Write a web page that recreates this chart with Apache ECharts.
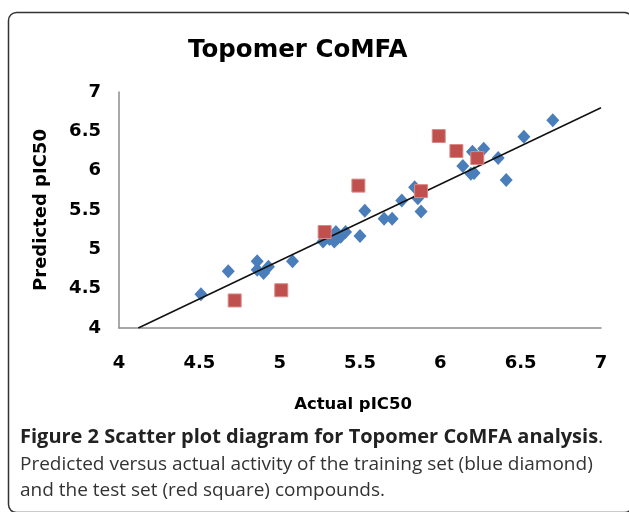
<!DOCTYPE html>
<html>
<head>
<meta charset="utf-8">
<title>Topomer CoMFA</title>
<script src="https://cdn.jsdelivr.net/npm/echarts@6/dist/echarts.min.js"></script>
<style>
  html, body { margin: 0; padding: 0; background: #fff; }
  #chart { width: 629px; height: 512px; }
</style>
</head>
<body>
<div id="chart"></div>
<script>
'use strict';

// training set (blue diamond): [actual, predicted]
var trainingSet = [
  [4.51, 4.43], [4.68, 4.72], [4.86, 4.85], [4.86, 4.74], [4.90, 4.70],
  [4.93, 4.78], [5.08, 4.85], [5.27, 5.10], [5.31, 5.13], [5.34, 5.10],
  [5.35, 5.22], [5.36, 5.14], [5.38, 5.16], [5.41, 5.22], [5.50, 5.17],
  [5.53, 5.49], [5.65, 5.39], [5.70, 5.39], [5.76, 5.62], [5.84, 5.79],
  [5.86, 5.65], [5.88, 5.48], [6.14, 6.06], [6.20, 6.24], [6.21, 5.97],
  [6.19, 5.96], [6.27, 6.28], [6.36, 6.16], [6.41, 5.88], [6.52, 6.43],
  [6.70, 6.64]
];

// test set (red square)
var testSet = [
  [4.72, 4.35], [5.01, 4.48], [5.28, 5.22], [5.49, 5.81],
  [5.88, 5.74], [5.99, 6.44], [6.10, 6.25], [6.23, 6.16]
];

// trend line end points
var trendLine = [[4.12, 4.0], [7.0, 6.80]];

var xTicks = [4, 4.5, 5, 5.5, 6, 6.5, 7];
var yTicks = [4, 4.5, 5, 5.5, 6, 6.5, 7];

var captionBold = 'Figure 2 Scatter plot diagram for Topomer CoMFA analysis';
var captionLines = [
  'Predicted versus actual activity of the training set (blue diamond)',
  'and the test set (red square) compounds.'
];

var chart = echarts.init(document.getElementById('chart'));

var heavy = 'DejaVu Sans, Liberation Sans, sans-serif';

var tickLabel = {
  fontFamily: heavy,
  fontWeight: 'bold',
  fontSize: 18,
  color: '#000'
};

chart.setOption({
  animation: false,
  title: {
    text: 'Topomer CoMFA',
    left: 183,
    top: 33,
    textStyle: {
      fontFamily: heavy,
      fontWeight: 'bold',
      fontSize: 24.5,
      color: '#000'
    }
  },
  grid: { left: 119, right: 28, top: 92, bottom: 184 },
  xAxis: {
    type: 'value',
    min: xTicks[0],
    max: xTicks[xTicks.length - 1],
    interval: 0.5,
    name: 'Actual pIC50',
    nameLocation: 'middle',
    nameGap: 68,
    nameTextStyle: {
      fontFamily: heavy,
      fontWeight: 'bold',
      fontSize: 16.5,
      color: '#000',
      padding: [0, 14, 0, 0]
    },
    axisLine: { lineStyle: { color: '#8c8c8c', width: 1.5 } },
    axisTick: { show: false },
    splitLine: { show: false },
    axisLabel: Object.assign({ margin: 26 }, tickLabel)
  },
  yAxis: {
    type: 'value',
    min: yTicks[0],
    max: yTicks[yTicks.length - 1],
    interval: 0.5,
    name: 'Predicted pIC50',
    nameLocation: 'middle',
    nameGap: 69,
    nameRotate: 90,
    nameTextStyle: {
      fontFamily: heavy,
      fontWeight: 'bold',
      fontSize: 18,
      color: '#000'
    },
    axisLine: { show: true, lineStyle: { color: '#8c8c8c', width: 1.5 } },
    axisTick: { show: false },
    splitLine: { show: false },
    axisLabel: Object.assign({ margin: 18 }, tickLabel)
  },
  series: [
    {
      type: 'line',
      data: trendLine,
      symbol: 'none',
      lineStyle: { color: '#111', width: 1.5 },
      z: 3
    },
    {
      type: 'scatter',
      data: trainingSet,
      symbol: 'diamond',
      symbolSize: [13, 14],
      itemStyle: { color: '#4a7ebb', opacity: 1 },
      z: 2
    },
    {
      type: 'scatter',
      data: testSet,
      symbol: 'rect',
      symbolSize: 13,
      itemStyle: { color: '#c0504d', borderColor: '#d98a88', borderWidth: 1, opacity: 1 },
      z: 4
    }
  ],
  graphic: [
    {
      type: 'rect',
      shape: { x: 8.5, y: 12.5, width: 624, height: 500, r: 8 },
      style: { fill: 'none', stroke: '#333', lineWidth: 1.5 },
      silent: true
    },
    {
      type: 'text',
      left: 20,
      top: 427,
      style: {
        text: '{b|' + captionBold + '}{r|.}',
        rich: {
          b: { fontFamily: 'Open Sans', fontWeight: 'bold', fontSize: 20, fill: '#222' },
          r: { fontFamily: 'Open Sans', fontSize: 20, fill: '#222' }
        }
      }
    },
    {
      type: 'text',
      left: 20,
      top: 452,
      style: {
        text: captionLines.join('\n'),
        fontFamily: 'Open Sans',
        fontSize: 19,
        lineHeight: 26,
        fill: '#333'
      }
    }
  ]
});
</script>
</body>
</html>
